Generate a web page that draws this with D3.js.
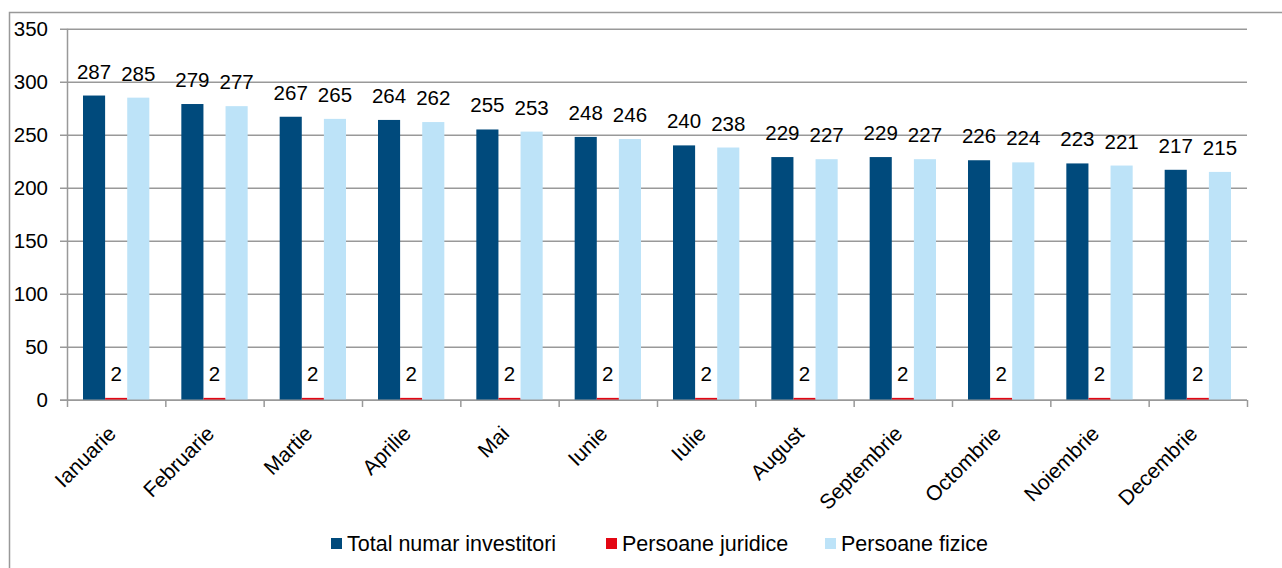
<!DOCTYPE html>
<html>
<head>
<meta charset="utf-8">
<script src="https://cdn.jsdelivr.net/npm/d3@7"></script>
<style>
  body { margin: 0; background: #fff; }
  text { font-family: "Liberation Sans", Arial, sans-serif; fill: #000; }
</style>
</head>
<body>
<div id="chart"></div>
<script>
// data
const months = ["Ianuarie", "Februarie", "Martie", "Aprilie", "Mai", "Iunie",
                "Iulie", "August", "Septembrie", "Octombrie", "Noiembrie", "Decembrie"];
const totalInvestitori = [287, 279, 267, 264, 255, 248, 240, 229, 229, 226, 223, 217];
const persoaneJuridice = [2, 2, 2, 2, 2, 2, 2, 2, 2, 2, 2, 2];
const persoaneFizice = [285, 277, 265, 262, 253, 246, 238, 227, 227, 224, 221, 215];
const yTicks = [0, 50, 100, 150, 200, 250, 300, 350];

const seriesNames = ["Total numar investitori", "Persoane juridice", "Persoane fizice"];
const seriesColors = ["#004a7c", "#e30613", "#bde3f8"];
const seriesValues = [totalInvestitori, persoaneJuridice, persoaneFizice];

const width = 1282, height = 568;
const margin = {top: 28.7, right: 35, bottom: 168, left: 67};
const innerW = width - margin.left - margin.right;
const innerH = height - margin.top - margin.bottom;

const svg = d3.select("#chart").append("svg")
    .attr("width", width)
    .attr("height", height);

// outer frame
svg.append("rect")
    .attr("x", 9.5).attr("y", 12.5)
    .attr("width", 1290).attr("height", 600)
    .attr("fill", "none")
    .attr("stroke", "#999")
    .attr("stroke-width", 1.5);

const g = svg.append("g")
    .attr("transform", "translate(" + margin.left + "," + margin.top + ")");

const x0 = d3.scaleBand()
    .domain(months)
    .range([0, innerW])
    .paddingInner(0)
    .paddingOuter(0);

const x1 = d3.scaleBand()
    .domain(seriesNames)
    .range([16, x0.bandwidth() - 16])
    .padding(0);

const y = d3.scaleLinear()
    .domain([0, 350])
    .range([innerH, 0]);

// gridlines
g.append("g")
    .selectAll("line")
    .data(yTicks)
    .enter()
    .append("line")
    .attr("x1", -7).attr("x2", innerW)
    .attr("y1", d => Math.round(y(d)) + 0.5)
    .attr("y2", d => Math.round(y(d)) + 0.5)
    .attr("stroke", "#999")
    .attr("stroke-width", 1.5);

// y axis line
g.append("line")
    .attr("x1", 0.5).attr("x2", 0.5)
    .attr("y1", 0).attr("y2", innerH)
    .attr("stroke", "#999")
    .attr("stroke-width", 1.5);

// y labels
g.append("g")
    .selectAll("text")
    .data(yTicks)
    .enter()
    .append("text")
    .attr("x", -19)
    .attr("y", d => y(d))
    .attr("dy", "0.36em")
    .attr("text-anchor", "end")
    .attr("font-size", "20.5px")
    .text(d => d);

// bars
const groups = g.selectAll(".month")
    .data(months)
    .enter()
    .append("g")
    .attr("class", "month")
    .attr("transform", d => "translate(" + x0(d) + ",0)");

groups.selectAll("rect")
    .data((m, i) => seriesNames.map((s, k) => ({s: s, v: seriesValues[k][i], c: seriesColors[k]})))
    .enter()
    .append("rect")
    .attr("x", d => x1(d.s))
    .attr("y", d => y(d.v))
    .attr("width", x1.bandwidth())
    .attr("height", d => innerH - y(d.v))
    .attr("fill", d => d.c);

groups.selectAll("text")
    .data((m, i) => seriesNames.map((s, k) => ({s: s, v: seriesValues[k][i]})))
    .enter()
    .append("text")
    .attr("x", d => x1(d.s) + x1.bandwidth() / 2)
    .attr("y", d => y(d.v) - 17)
    .attr("text-anchor", "middle")
    .attr("font-size", "20.5px")
    .text(d => d.v);

// x axis
g.append("line")
    .attr("x1", -7).attr("x2", innerW)
    .attr("y1", Math.round(innerH) + 0.5).attr("y2", Math.round(innerH) + 0.5)
    .attr("stroke", "#999")
    .attr("stroke-width", 1.5);

g.append("g")
    .selectAll("line")
    .data(months.concat(["end"]))
    .enter()
    .append("line")
    .attr("x1", (d, i) => i * x0.bandwidth() + 0.5)
    .attr("x2", (d, i) => i * x0.bandwidth() + 0.5)
    .attr("y1", innerH)
    .attr("y2", innerH + 7)
    .attr("stroke", "#999")
    .attr("stroke-width", 1.5);

g.append("g")
    .selectAll("text")
    .data(months)
    .enter()
    .append("text")
    .attr("transform", d => "translate(" + (x0(d) + x0.bandwidth() / 2 + 1) + "," + (innerH + 35) + ") rotate(-45)")
    .attr("text-anchor", "end")
    .attr("font-size", "21px")
    .text(d => d);

// legend
const legendX = [331, 606, 825];
const legend = svg.append("g")
    .selectAll("g")
    .data(seriesNames)
    .enter()
    .append("g")
    .attr("transform", (d, i) => "translate(" + legendX[i] + ",538)");

legend.append("rect")
    .attr("width", 11).attr("height", 11)
    .attr("fill", (d, i) => seriesColors[i]);

legend.append("text")
    .attr("x", 16)
    .attr("y", 5.5)
    .attr("dy", "0.36em")
    .attr("font-size", "21.5px")
    .text(d => d);
</script>
</body>
</html>
